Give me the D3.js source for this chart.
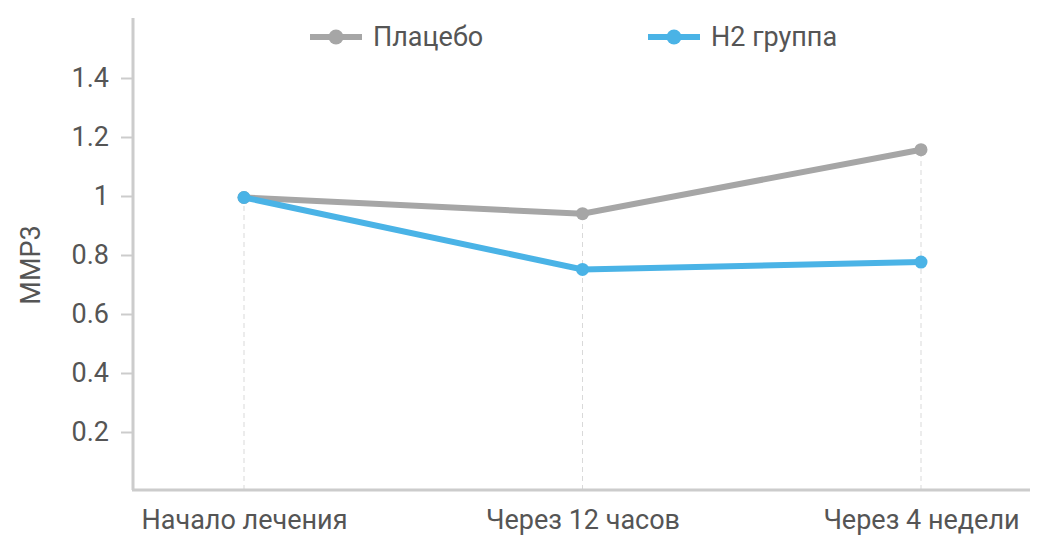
<!DOCTYPE html>
<html><head><meta charset="utf-8">
<script src="https://cdn.jsdelivr.net/npm/d3@7"></script>
<style>body{margin:0;background:#fff}text{font-family:Roboto,sans-serif}</style>
</head><body><svg id="c" width="1041" height="558"></svg>
<script>
const categories = ["Начало лечения", "Через 12 часов", "Через 4 недели"];
const placebo = [0.995, 0.94, 1.157];
const h2 = [0.995, 0.751, 0.776];
const seriesNames = ["Плацебо", "H2 группа"];
const seriesColors = ["#a6a6a6", "#4ab3e6"];
const yTicks = [0.2, 0.4, 0.6, 0.8, 1, 1.2, 1.4];

const svg = d3.select("#c");
const x = d3.scalePoint().domain(categories).range([244, 921]);
const y = d3.scaleLinear().domain([0, 1.6]).range([491, 19]);
const FS = "27px";

svg.selectAll(".g").data(categories).enter().append("line")
  .attr("x1", d => x(d)).attr("x2", d => x(d)).attr("y1", 490)
  .attr("y2", (d, i) => y(Math.max(placebo[i], h2[i])))
  .attr("stroke", "#d9d9d9").attr("stroke-dasharray", "5,4").attr("stroke-width", 1);

const ya = svg.append("g").attr("transform", "translate(133,0)")
  .call(d3.axisLeft(y).tickValues(yTicks).tickFormat(d3.format("")).tickSize(12).tickPadding(12));
ya.select(".domain").attr("stroke", "#cccccc").attr("stroke-width", 3).attr("d", "M0,18V490");
ya.selectAll(".tick line").attr("stroke", "#cccccc").attr("stroke-width", 2);
ya.selectAll("text").attr("fill", "#555").attr("font-size", FS).style("font-size", FS);

svg.append("line").attr("x1", 132).attr("x2", 1030).attr("y1", 490).attr("y2", 490)
  .attr("stroke", "#cccccc").attr("stroke-width", 3);
const xa = svg.append("g").attr("transform", "translate(0,490)")
  .call(d3.axisBottom(x).tickSize(0).tickPadding(20));
xa.select(".domain").remove();
xa.selectAll("text").attr("fill", "#555").attr("font-size", FS).style("font-size", FS);

svg.append("text").attr("transform", "translate(40,265) rotate(-90)")
  .attr("text-anchor", "middle").attr("fill", "#555").style("font-size", FS).text("ММР3");

const line = d3.line().x((d, i) => x(categories[i])).y(d => y(d));
[placebo, h2].forEach((s, k) => {
  svg.append("path").attr("d", line(s)).attr("fill", "none")
    .attr("stroke", seriesColors[k]).attr("stroke-width", 6);
  svg.selectAll(".p" + k).data(s).enter().append("circle")
    .attr("cx", (d, i) => x(categories[i])).attr("cy", d => y(d)).attr("r", 6.5)
    .attr("fill", seriesColors[k]);
});

const lx = [310, 648];
seriesNames.forEach((n, k) => {
  const g = svg.append("g");
  g.append("line").attr("x1", lx[k]).attr("x2", lx[k] + 52).attr("y1", 37).attr("y2", 37)
    .attr("stroke", seriesColors[k]).attr("stroke-width", 6);
  g.append("circle").attr("cx", lx[k] + 26).attr("cy", 37).attr("r", 7.5).attr("fill", seriesColors[k]);
  g.append("text").attr("x", lx[k] + 63).attr("y", 46).attr("fill", "#555")
    .style("font-size", FS).text(n);
});
</script></body></html>
